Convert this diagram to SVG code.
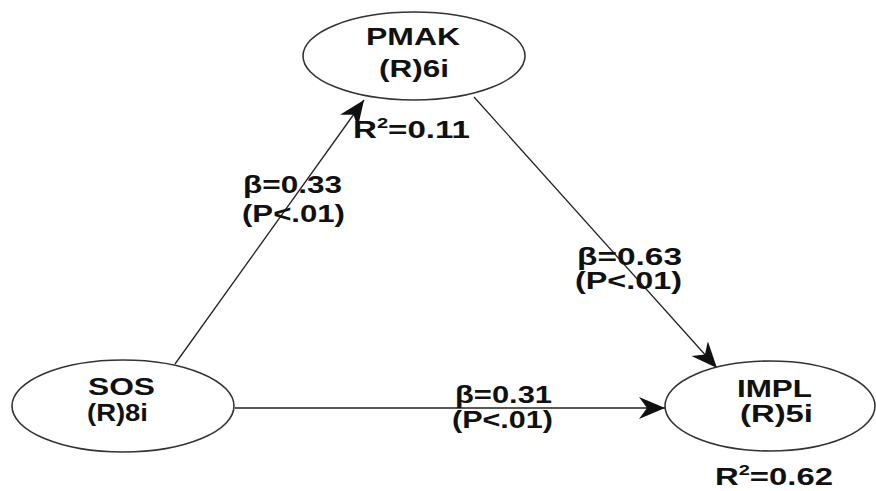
<svg xmlns="http://www.w3.org/2000/svg" width="876" height="491" viewBox="0 0 876 491">
<style>
.node ellipse{fill:#fff;stroke:#333;stroke-width:1.6}
text{font-family:"Liberation Sans",Arial,sans-serif;font-weight:bold;fill:#111;font-size:23px}
.edge{stroke:#222;stroke-width:1.3;fill:none;marker-end:url(#ah)}
</style>
<defs>
<marker id="ah" markerUnits="userSpaceOnUse" markerWidth="30" markerHeight="24" refX="26" refY="11" orient="auto" viewBox="0 0 30 22">
<path d="M0,0 L26,11 L0,22 L8,11 z" fill="#111"/>
</marker>
</defs>
<rect width="876" height="491" fill="#fff"/>
<g id="connectors">
<line class="edge" x1="175" y1="364" x2="364" y2="100"/>
<line class="edge" x1="474" y1="97" x2="717" y2="368"/>
<line class="edge" x1="235" y1="408" x2="665" y2="408"/>
</g>
<g id="PMAK" class="node">
<ellipse cx="414" cy="56" rx="111" ry="44"/>
<text x="366" y="45" textLength="94" lengthAdjust="spacingAndGlyphs">PMAK</text>
<text x="379" y="77" textLength="70" lengthAdjust="spacingAndGlyphs">(R)6i</text>
</g>
<g id="SOS" class="node">
<ellipse cx="123" cy="406" rx="111" ry="46"/>
<text x="88" y="395" textLength="67" lengthAdjust="spacingAndGlyphs">SOS</text>
<text x="87" y="421" textLength="61" lengthAdjust="spacingAndGlyphs">(R)8i</text>
</g>
<g id="IMPL" class="node">
<ellipse cx="770" cy="406" rx="105" ry="45"/>
<text x="737" y="397" textLength="75" lengthAdjust="spacingAndGlyphs">IMPL</text>
<text x="740" y="422" textLength="73" lengthAdjust="spacingAndGlyphs">(R)5i</text>
</g>
<g id="labels">
<text x="353" y="138" textLength="117" lengthAdjust="spacingAndGlyphs">R<tspan font-size="14" dy="-10">2</tspan><tspan dy="10">=0.11</tspan></text>
<text x="715" y="485" textLength="118" lengthAdjust="spacingAndGlyphs">R<tspan font-size="14" dy="-10">2</tspan><tspan dy="10">=0.62</tspan></text>
<text x="243" y="193" textLength="99" lengthAdjust="spacingAndGlyphs">β=0.33</text>
<text x="242" y="222" textLength="103" lengthAdjust="spacingAndGlyphs">(P&lt;.01)</text>
<text x="577" y="265" textLength="105" lengthAdjust="spacingAndGlyphs">β=0.63</text>
<text x="575" y="289" textLength="107" lengthAdjust="spacingAndGlyphs">(P&lt;.01)</text>
<text x="455" y="403" textLength="97" lengthAdjust="spacingAndGlyphs">β=0.31</text>
<text x="452" y="428" textLength="101" lengthAdjust="spacingAndGlyphs">(P&lt;.01)</text>
</g>
</svg>
